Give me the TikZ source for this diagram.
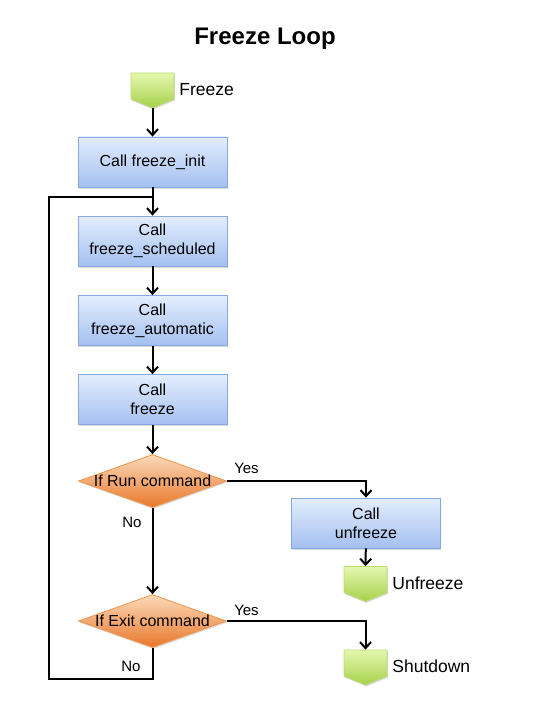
\documentclass[tikz,border=0pt]{standalone}
\usepackage{fontspec}
\setmainfont{Liberation Sans}
\usetikzlibrary{positioning}
\usetikzlibrary{arrows.meta, shapes.geometric, shapes.symbols, shadows}
\definecolor{calltop}{HTML}{E3EDFD}
\definecolor{callbot}{HTML}{A4C0F0}
\definecolor{callline}{HTML}{86AADF}
\definecolor{testtop}{HTML}{FCDABB}
\definecolor{testbot}{HTML}{E8772A}
\definecolor{testline}{HTML}{F0944A}
\definecolor{termtop}{HTML}{E4F8B0}
\definecolor{termbot}{HTML}{A6D04A}
\definecolor{termline}{HTML}{B8DC70}
\tikzset{
	-{Straight Barb[length=6bp,width=11bp]},
	every path/.style={line width=2bp},
	every node/.style={align=center, font=\fontsize{16bp}{19bp}\selectfont},
	call/.style={rectangle, draw=callline, line width=0.8bp, top color=calltop, bottom color=callbot,
		minimum width=149bp, minimum height=50bp, inner sep=0pt,
		drop shadow={opacity=0.3, shadow xshift=0.8bp, shadow yshift=-1.5bp}},
	test/.style={diamond, draw=testline, line width=0.8bp, top color=testtop, bottom color=testbot,
		minimum width=148bp, minimum height=53bp, inner sep=0pt,
		drop shadow={opacity=0.3, shadow xshift=0.8bp, shadow yshift=-1.5bp}},
	term/.style={signal, signal to=south, signal pointer angle=135, draw=termline, line width=0.8bp,
		top color=termtop, bottom color=termbot, minimum width=43bp, minimum height=26bp, inner sep=0pt,
		drop shadow={opacity=0.3, shadow xshift=0.8bp, shadow yshift=-1.5bp}},
	termlabel/.style={font=\fontsize{17.5bp}{20bp}\selectfont, inner sep=2bp, yshift=-3.5bp},
	el/.style={font=\fontsize{15bp}{18bp}\selectfont}
}

\begin{document}
\begin{tikzpicture}[x=1bp, y=-1bp]
	\useasboundingbox (0,0) rectangle (540,720);
	\node[anchor=base, font=\fontsize{24bp}{28bp}\selectfont\bfseries] (title) at (265,45) {Freeze Loop};
	
	\node[term] (freeze) at (152.5,86) {};
	\node[termlabel, right=2bp of freeze] (freezetxt) {Freeze};
	
	\node[call] (init) at (152.5,162) {Call freeze\_init};
	\node[call] (sched) at (152.5,241) {Call\\freeze\_scheduled};
	\node[call] (auto) at (152.5,320.5) {Call\\freeze\_automatic};
	\node[call] (frz) at (152.5,399.5) {Call\\freeze};
	
	\node[test] (run) at (152.5,481) {\makebox[0pt]{If Run command}};
	\node[test] (exit) at (152.5,621) {\makebox[0pt]{If Exit command}};
	
	\node[call] (unfrz) at (366,523) {Call\\unfreeze};
	\node[term] (unfreeze) at (365.5,579.5) {};
	\node[termlabel, right=2bp of unfreeze] (unfreezetxt) {Unfreeze};
	\node[term] (shutdown) at (365.5,663) {};
	\node[termlabel, right=2bp of shutdown] (shutdowntxt) {Shutdown};
	
	\node[el] (yes1) at (246.5,468) {Yes};
	\node[el] (no1) at (132,522) {No};
	\node[el] (yes2) at (246.5,610) {Yes};
	\node[el] (no2) at (131,666) {No};
	
	\coordinate (loopin) at (152.5,197);
	\coordinate (loopbot) at (48.5,679);
	
	\path (freeze) edge (init);
	\path (init) edge (sched);
	\path (sched) edge (auto);
	\path (auto) edge (frz);
	\path (frz) edge (run);
	\path (run) edge (exit);
	\path (unfrz) edge (unfreeze);
	\draw (run) -| (unfrz);
	\draw (exit) -| (shutdown);
	\draw[-] (exit) |- (loopbot) |- (loopin);
	
\end{tikzpicture}
\end{document}
